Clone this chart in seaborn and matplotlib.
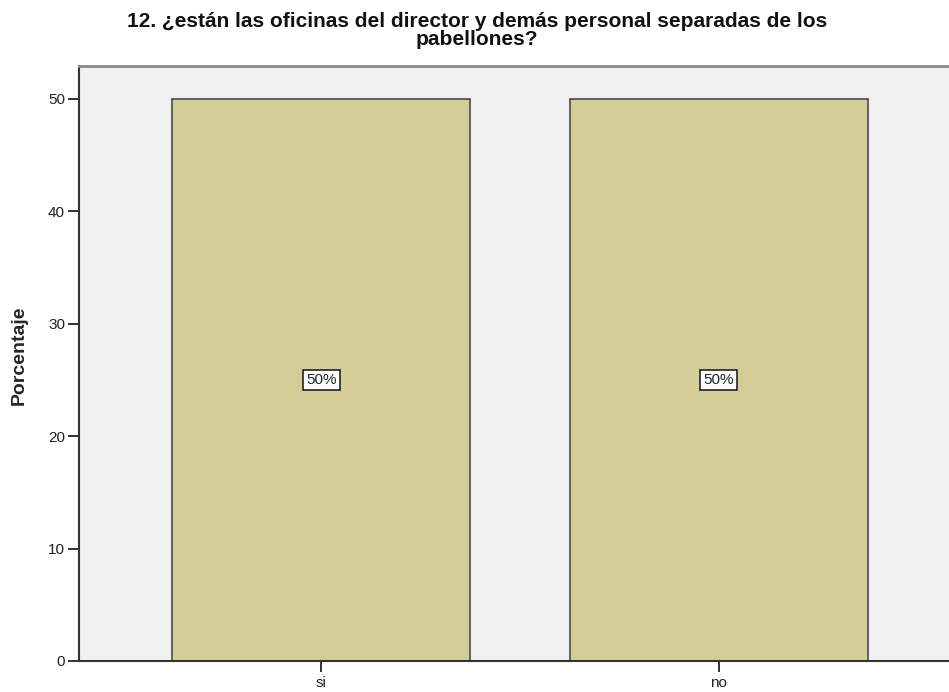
import matplotlib
matplotlib.use("Agg")
import matplotlib.pyplot as plt
import seaborn as sns
import pandas as pd

categorias = ["si", "no"]
porcentajes = [50, 50]
etiquetas = ["50%", "50%"]
titulo = "12. ¿están las oficinas del director y demás personal separadas de los\npabellones?"

sns.set_style("white")
plt.rcParams['font.family'] = ['Liberation Sans', 'DejaVu Sans']

df = pd.DataFrame({"categoria": categorias, "porcentaje": porcentajes})

fig = plt.figure(figsize=(9.49, 6.92), dpi=100)
ax = fig.add_axes([0.0832, 0.0448, 0.9168, 0.8598])
ax.set_facecolor("#f0f0f0")

sns.barplot(data=df, x="categoria", y="porcentaje", color="#d3ce97",
            saturation=1, width=0.75, edgecolor="#4a4a4a", linewidth=1.2, ax=ax)

# etiquetas de porcentaje en el medio de cada barra
for i, (v, t) in enumerate(zip(porcentajes, etiquetas)):
    ax.text(i, v / 2, t, ha="center", va="center", fontsize=11, color="#222222",
            bbox=dict(boxstyle="square,pad=0.2", facecolor="white",
                      edgecolor="#222222", linewidth=1.2))

ax.set_xlim(-0.61, 1.58)
ax.set_ylim(0, 52.9)
ax.set_yticks([0, 10, 20, 30, 40, 50])
ax.set_xlabel("")
ax.set_ylabel("Porcentaje", fontsize=14, fontweight="bold")
ax.yaxis.set_label_coords(-0.0586, 0.514)
ax.tick_params(axis="both", labelsize=11, colors="#222222", direction="out")
ax.tick_params(axis="y", length=8, width=1.3, left=True, pad=2)
ax.tick_params(axis="x", length=8, width=1.3, bottom=True, pad=3)

ax.spines["left"].set_color("#333333")
ax.spines["left"].set_linewidth(1.5)
ax.spines["bottom"].set_color("#333333")
ax.spines["bottom"].set_linewidth(1.5)
ax.spines["top"].set_color("#8a8a8a")
ax.spines["top"].set_linewidth(2)
ax.spines["right"].set_visible(False)

fig.text(0.503, 0.982, titulo, ha="center", va="top", fontsize=15,
         fontweight="bold", linespacing=0.88, color="#111111")

plt.savefig("out.png", dpi=100)
